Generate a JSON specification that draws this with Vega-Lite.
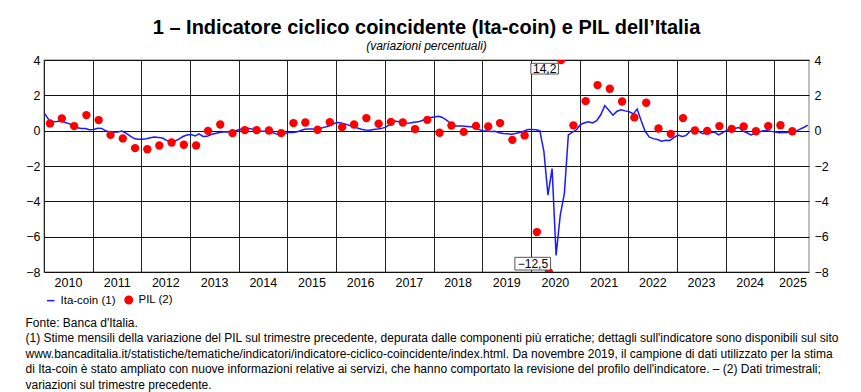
{
  "$schema": "https://vega.github.io/schema/vega-lite/v6.json",
  "autosize": "none",
  "width": 765,
  "height": 212,
  "padding": {"left": 44, "top": 60, "right": 52, "bottom": 120},
  "background": "white",
  "config": {
    "font": "Liberation Sans",
    "view": {"stroke": "#aaaaaa", "strokeWidth": 1.5},
    "locale": {"number": {"decimal": ",", "thousands": ".", "grouping": [3], "currency": ["€", ""]}}
  },
  "title": {
    "text": "1 – Indicatore ciclico coincidente (Ita-coin) e PIL dell’Italia",
    "subtitle": "(variazioni percentuali)",
    "font": "Liberation Sans",
    "fontSize": 20,
    "fontWeight": "bold",
    "color": "black",
    "subtitleFont": "Liberation Sans",
    "subtitleFontSize": 12,
    "subtitleFontStyle": "italic",
    "subtitleColor": "black",
    "subtitlePadding": 3,
    "anchor": "middle",
    "offset": 2
  },
  "datasets": {
    "itacoin": [
      {"date": "2010-01-08", "value": 0.95, "series": "Ita-coin (1)"},
      {"date": "2010-02-08", "value": 0.6, "series": "Ita-coin (1)"},
      {"date": "2010-03-08", "value": 0.5, "series": "Ita-coin (1)"},
      {"date": "2010-04-08", "value": 0.52, "series": "Ita-coin (1)"},
      {"date": "2010-05-08", "value": 0.56, "series": "Ita-coin (1)"},
      {"date": "2010-06-08", "value": 0.46, "series": "Ita-coin (1)"},
      {"date": "2010-07-08", "value": 0.4, "series": "Ita-coin (1)"},
      {"date": "2010-08-08", "value": 0.28, "series": "Ita-coin (1)"},
      {"date": "2010-09-08", "value": 0.16, "series": "Ita-coin (1)"},
      {"date": "2010-10-08", "value": 0.12, "series": "Ita-coin (1)"},
      {"date": "2010-11-08", "value": 0.12, "series": "Ita-coin (1)"},
      {"date": "2010-12-08", "value": 0.05, "series": "Ita-coin (1)"},
      {"date": "2011-01-08", "value": 0.07, "series": "Ita-coin (1)"},
      {"date": "2011-02-08", "value": 0.14, "series": "Ita-coin (1)"},
      {"date": "2011-03-08", "value": 0.13, "series": "Ita-coin (1)"},
      {"date": "2011-04-08", "value": 0.0, "series": "Ita-coin (1)"},
      {"date": "2011-05-08", "value": -0.07, "series": "Ita-coin (1)"},
      {"date": "2011-06-08", "value": -0.09, "series": "Ita-coin (1)"},
      {"date": "2011-07-08", "value": -0.07, "series": "Ita-coin (1)"},
      {"date": "2011-08-08", "value": -0.02, "series": "Ita-coin (1)"},
      {"date": "2011-09-08", "value": -0.14, "series": "Ita-coin (1)"},
      {"date": "2011-10-08", "value": -0.3, "series": "Ita-coin (1)"},
      {"date": "2011-11-08", "value": -0.45, "series": "Ita-coin (1)"},
      {"date": "2011-12-08", "value": -0.48, "series": "Ita-coin (1)"},
      {"date": "2012-01-08", "value": -0.48, "series": "Ita-coin (1)"},
      {"date": "2012-02-08", "value": -0.46, "series": "Ita-coin (1)"},
      {"date": "2012-03-08", "value": -0.4, "series": "Ita-coin (1)"},
      {"date": "2012-04-08", "value": -0.36, "series": "Ita-coin (1)"},
      {"date": "2012-05-08", "value": -0.38, "series": "Ita-coin (1)"},
      {"date": "2012-06-08", "value": -0.42, "series": "Ita-coin (1)"},
      {"date": "2012-07-08", "value": -0.55, "series": "Ita-coin (1)"},
      {"date": "2012-08-08", "value": -0.62, "series": "Ita-coin (1)"},
      {"date": "2012-09-08", "value": -0.6, "series": "Ita-coin (1)"},
      {"date": "2012-10-08", "value": -0.48, "series": "Ita-coin (1)"},
      {"date": "2012-11-08", "value": -0.33, "series": "Ita-coin (1)"},
      {"date": "2012-12-08", "value": -0.25, "series": "Ita-coin (1)"},
      {"date": "2013-01-08", "value": -0.22, "series": "Ita-coin (1)"},
      {"date": "2013-02-08", "value": -0.3, "series": "Ita-coin (1)"},
      {"date": "2013-03-08", "value": -0.18, "series": "Ita-coin (1)"},
      {"date": "2013-04-08", "value": -0.33, "series": "Ita-coin (1)"},
      {"date": "2013-05-08", "value": -0.32, "series": "Ita-coin (1)"},
      {"date": "2013-06-08", "value": -0.22, "series": "Ita-coin (1)"},
      {"date": "2013-07-08", "value": -0.16, "series": "Ita-coin (1)"},
      {"date": "2013-08-08", "value": -0.1, "series": "Ita-coin (1)"},
      {"date": "2013-09-08", "value": -0.08, "series": "Ita-coin (1)"},
      {"date": "2013-10-08", "value": -0.07, "series": "Ita-coin (1)"},
      {"date": "2013-11-08", "value": -0.05, "series": "Ita-coin (1)"},
      {"date": "2013-12-08", "value": 0.0, "series": "Ita-coin (1)"},
      {"date": "2014-01-08", "value": 0.07, "series": "Ita-coin (1)"},
      {"date": "2014-02-08", "value": 0.12, "series": "Ita-coin (1)"},
      {"date": "2014-03-08", "value": 0.14, "series": "Ita-coin (1)"},
      {"date": "2014-04-08", "value": 0.09, "series": "Ita-coin (1)"},
      {"date": "2014-05-08", "value": 0.06, "series": "Ita-coin (1)"},
      {"date": "2014-06-08", "value": -0.03, "series": "Ita-coin (1)"},
      {"date": "2014-07-08", "value": -0.04, "series": "Ita-coin (1)"},
      {"date": "2014-08-08", "value": -0.05, "series": "Ita-coin (1)"},
      {"date": "2014-09-08", "value": -0.1, "series": "Ita-coin (1)"},
      {"date": "2014-10-08", "value": -0.18, "series": "Ita-coin (1)"},
      {"date": "2014-11-08", "value": -0.25, "series": "Ita-coin (1)"},
      {"date": "2014-12-08", "value": -0.16, "series": "Ita-coin (1)"},
      {"date": "2015-01-08", "value": -0.1, "series": "Ita-coin (1)"},
      {"date": "2015-02-08", "value": -0.1, "series": "Ita-coin (1)"},
      {"date": "2015-03-08", "value": -0.07, "series": "Ita-coin (1)"},
      {"date": "2015-04-08", "value": 0.0, "series": "Ita-coin (1)"},
      {"date": "2015-05-08", "value": 0.08, "series": "Ita-coin (1)"},
      {"date": "2015-06-08", "value": 0.1, "series": "Ita-coin (1)"},
      {"date": "2015-07-08", "value": 0.09, "series": "Ita-coin (1)"},
      {"date": "2015-08-08", "value": 0.09, "series": "Ita-coin (1)"},
      {"date": "2015-09-08", "value": 0.14, "series": "Ita-coin (1)"},
      {"date": "2015-10-08", "value": 0.2, "series": "Ita-coin (1)"},
      {"date": "2015-11-08", "value": 0.26, "series": "Ita-coin (1)"},
      {"date": "2015-12-08", "value": 0.38, "series": "Ita-coin (1)"},
      {"date": "2016-01-08", "value": 0.46, "series": "Ita-coin (1)"},
      {"date": "2016-02-08", "value": 0.44, "series": "Ita-coin (1)"},
      {"date": "2016-03-08", "value": 0.38, "series": "Ita-coin (1)"},
      {"date": "2016-04-08", "value": 0.3, "series": "Ita-coin (1)"},
      {"date": "2016-05-08", "value": 0.22, "series": "Ita-coin (1)"},
      {"date": "2016-06-08", "value": 0.15, "series": "Ita-coin (1)"},
      {"date": "2016-07-08", "value": 0.08, "series": "Ita-coin (1)"},
      {"date": "2016-08-08", "value": 0.04, "series": "Ita-coin (1)"},
      {"date": "2016-09-08", "value": 0.03, "series": "Ita-coin (1)"},
      {"date": "2016-10-08", "value": 0.06, "series": "Ita-coin (1)"},
      {"date": "2016-11-08", "value": 0.09, "series": "Ita-coin (1)"},
      {"date": "2016-12-08", "value": 0.13, "series": "Ita-coin (1)"},
      {"date": "2017-01-08", "value": 0.2, "series": "Ita-coin (1)"},
      {"date": "2017-02-08", "value": 0.35, "series": "Ita-coin (1)"},
      {"date": "2017-03-08", "value": 0.55, "series": "Ita-coin (1)"},
      {"date": "2017-04-08", "value": 0.52, "series": "Ita-coin (1)"},
      {"date": "2017-05-08", "value": 0.46, "series": "Ita-coin (1)"},
      {"date": "2017-06-08", "value": 0.42, "series": "Ita-coin (1)"},
      {"date": "2017-07-08", "value": 0.43, "series": "Ita-coin (1)"},
      {"date": "2017-08-08", "value": 0.47, "series": "Ita-coin (1)"},
      {"date": "2017-09-08", "value": 0.5, "series": "Ita-coin (1)"},
      {"date": "2017-10-08", "value": 0.58, "series": "Ita-coin (1)"},
      {"date": "2017-11-08", "value": 0.66, "series": "Ita-coin (1)"},
      {"date": "2017-12-08", "value": 0.74, "series": "Ita-coin (1)"},
      {"date": "2018-01-08", "value": 0.78, "series": "Ita-coin (1)"},
      {"date": "2018-02-08", "value": 0.82, "series": "Ita-coin (1)"},
      {"date": "2018-03-08", "value": 0.75, "series": "Ita-coin (1)"},
      {"date": "2018-04-08", "value": 0.6, "series": "Ita-coin (1)"},
      {"date": "2018-05-08", "value": 0.42, "series": "Ita-coin (1)"},
      {"date": "2018-06-08", "value": 0.26, "series": "Ita-coin (1)"},
      {"date": "2018-07-08", "value": 0.26, "series": "Ita-coin (1)"},
      {"date": "2018-08-08", "value": 0.26, "series": "Ita-coin (1)"},
      {"date": "2018-09-08", "value": 0.24, "series": "Ita-coin (1)"},
      {"date": "2018-10-08", "value": 0.22, "series": "Ita-coin (1)"},
      {"date": "2018-11-08", "value": 0.18, "series": "Ita-coin (1)"},
      {"date": "2018-12-08", "value": 0.06, "series": "Ita-coin (1)"},
      {"date": "2019-01-08", "value": 0.0, "series": "Ita-coin (1)"},
      {"date": "2019-02-08", "value": -0.02, "series": "Ita-coin (1)"},
      {"date": "2019-03-08", "value": -0.05, "series": "Ita-coin (1)"},
      {"date": "2019-04-08", "value": -0.04, "series": "Ita-coin (1)"},
      {"date": "2019-05-08", "value": -0.12, "series": "Ita-coin (1)"},
      {"date": "2019-06-08", "value": -0.16, "series": "Ita-coin (1)"},
      {"date": "2019-07-08", "value": -0.18, "series": "Ita-coin (1)"},
      {"date": "2019-08-08", "value": -0.2, "series": "Ita-coin (1)"},
      {"date": "2019-09-08", "value": -0.16, "series": "Ita-coin (1)"},
      {"date": "2019-10-08", "value": -0.1, "series": "Ita-coin (1)"},
      {"date": "2019-11-08", "value": -0.03, "series": "Ita-coin (1)"},
      {"date": "2019-12-08", "value": 0.06, "series": "Ita-coin (1)"},
      {"date": "2020-01-08", "value": 0.07, "series": "Ita-coin (1)"},
      {"date": "2020-02-08", "value": 0.05, "series": "Ita-coin (1)"},
      {"date": "2020-03-08", "value": 0.0, "series": "Ita-coin (1)"},
      {"date": "2020-04-08", "value": -1.2, "series": "Ita-coin (1)"},
      {"date": "2020-05-08", "value": -3.65, "series": "Ita-coin (1)"},
      {"date": "2020-06-08", "value": -2.15, "series": "Ita-coin (1)"},
      {"date": "2020-07-08", "value": -7.06, "series": "Ita-coin (1)"},
      {"date": "2020-08-08", "value": -4.8, "series": "Ita-coin (1)"},
      {"date": "2020-09-08", "value": -3.56, "series": "Ita-coin (1)"},
      {"date": "2020-10-08", "value": -0.24, "series": "Ita-coin (1)"},
      {"date": "2020-11-08", "value": -0.08, "series": "Ita-coin (1)"},
      {"date": "2020-12-08", "value": 0.05, "series": "Ita-coin (1)"},
      {"date": "2021-01-08", "value": 0.35, "series": "Ita-coin (1)"},
      {"date": "2021-02-08", "value": 0.45, "series": "Ita-coin (1)"},
      {"date": "2021-03-08", "value": 0.5, "series": "Ita-coin (1)"},
      {"date": "2021-04-08", "value": 0.44, "series": "Ita-coin (1)"},
      {"date": "2021-05-08", "value": 0.56, "series": "Ita-coin (1)"},
      {"date": "2021-06-08", "value": 0.9, "series": "Ita-coin (1)"},
      {"date": "2021-07-08", "value": 1.42, "series": "Ita-coin (1)"},
      {"date": "2021-08-08", "value": 1.15, "series": "Ita-coin (1)"},
      {"date": "2021-09-08", "value": 0.88, "series": "Ita-coin (1)"},
      {"date": "2021-10-08", "value": 1.1, "series": "Ita-coin (1)"},
      {"date": "2021-11-08", "value": 1.18, "series": "Ita-coin (1)"},
      {"date": "2021-12-08", "value": 1.12, "series": "Ita-coin (1)"},
      {"date": "2022-01-08", "value": 1.07, "series": "Ita-coin (1)"},
      {"date": "2022-02-08", "value": 0.95, "series": "Ita-coin (1)"},
      {"date": "2022-03-08", "value": 1.22, "series": "Ita-coin (1)"},
      {"date": "2022-04-08", "value": 0.55, "series": "Ita-coin (1)"},
      {"date": "2022-05-08", "value": -0.05, "series": "Ita-coin (1)"},
      {"date": "2022-06-08", "value": -0.37, "series": "Ita-coin (1)"},
      {"date": "2022-07-08", "value": -0.45, "series": "Ita-coin (1)"},
      {"date": "2022-08-08", "value": -0.5, "series": "Ita-coin (1)"},
      {"date": "2022-09-08", "value": -0.6, "series": "Ita-coin (1)"},
      {"date": "2022-10-08", "value": -0.54, "series": "Ita-coin (1)"},
      {"date": "2022-11-08", "value": -0.55, "series": "Ita-coin (1)"},
      {"date": "2022-12-08", "value": -0.4, "series": "Ita-coin (1)"},
      {"date": "2023-01-08", "value": -0.25, "series": "Ita-coin (1)"},
      {"date": "2023-02-08", "value": -0.33, "series": "Ita-coin (1)"},
      {"date": "2023-03-08", "value": -0.28, "series": "Ita-coin (1)"},
      {"date": "2023-04-08", "value": -0.05, "series": "Ita-coin (1)"},
      {"date": "2023-05-08", "value": 0.12, "series": "Ita-coin (1)"},
      {"date": "2023-06-08", "value": 0.0, "series": "Ita-coin (1)"},
      {"date": "2023-07-08", "value": -0.16, "series": "Ita-coin (1)"},
      {"date": "2023-08-08", "value": -0.16, "series": "Ita-coin (1)"},
      {"date": "2023-09-08", "value": -0.12, "series": "Ita-coin (1)"},
      {"date": "2023-10-08", "value": -0.07, "series": "Ita-coin (1)"},
      {"date": "2023-11-08", "value": -0.24, "series": "Ita-coin (1)"},
      {"date": "2023-12-08", "value": -0.12, "series": "Ita-coin (1)"},
      {"date": "2024-01-08", "value": 0.03, "series": "Ita-coin (1)"},
      {"date": "2024-02-08", "value": 0.07, "series": "Ita-coin (1)"},
      {"date": "2024-03-08", "value": 0.12, "series": "Ita-coin (1)"},
      {"date": "2024-04-08", "value": 0.18, "series": "Ita-coin (1)"},
      {"date": "2024-05-08", "value": -0.01, "series": "Ita-coin (1)"},
      {"date": "2024-06-08", "value": -0.12, "series": "Ita-coin (1)"},
      {"date": "2024-07-08", "value": -0.24, "series": "Ita-coin (1)"},
      {"date": "2024-08-08", "value": -0.16, "series": "Ita-coin (1)"},
      {"date": "2024-09-08", "value": -0.07, "series": "Ita-coin (1)"},
      {"date": "2024-10-08", "value": -0.01, "series": "Ita-coin (1)"},
      {"date": "2024-11-08", "value": -0.01, "series": "Ita-coin (1)"},
      {"date": "2024-12-08", "value": -0.04, "series": "Ita-coin (1)"},
      {"date": "2025-01-08", "value": -0.07, "series": "Ita-coin (1)"},
      {"date": "2025-02-08", "value": -0.12, "series": "Ita-coin (1)"},
      {"date": "2025-03-08", "value": -0.11, "series": "Ita-coin (1)"},
      {"date": "2025-04-08", "value": -0.1, "series": "Ita-coin (1)"},
      {"date": "2025-05-08", "value": -0.08, "series": "Ita-coin (1)"},
      {"date": "2025-06-08", "value": -0.05, "series": "Ita-coin (1)"},
      {"date": "2025-07-08", "value": 0.07, "series": "Ita-coin (1)"},
      {"date": "2025-08-08", "value": 0.18, "series": "Ita-coin (1)"},
      {"date": "2025-09-08", "value": 0.31, "series": "Ita-coin (1)"}
    ],
    "pil": [
      {"date": "2010-02-15", "value": 0.41, "series": "PIL (2)"},
      {"date": "2010-05-15", "value": 0.69, "series": "PIL (2)"},
      {"date": "2010-08-15", "value": 0.26, "series": "PIL (2)"},
      {"date": "2010-11-15", "value": 0.88, "series": "PIL (2)"},
      {"date": "2011-02-15", "value": 0.6, "series": "PIL (2)"},
      {"date": "2011-05-15", "value": -0.24, "series": "PIL (2)"},
      {"date": "2011-08-15", "value": -0.44, "series": "PIL (2)"},
      {"date": "2011-11-15", "value": -0.99, "series": "PIL (2)"},
      {"date": "2012-02-15", "value": -1.05, "series": "PIL (2)"},
      {"date": "2012-05-15", "value": -0.84, "series": "PIL (2)"},
      {"date": "2012-08-15", "value": -0.67, "series": "PIL (2)"},
      {"date": "2012-11-15", "value": -0.8, "series": "PIL (2)"},
      {"date": "2013-02-15", "value": -0.84, "series": "PIL (2)"},
      {"date": "2013-05-15", "value": -0.01, "series": "PIL (2)"},
      {"date": "2013-08-15", "value": 0.35, "series": "PIL (2)"},
      {"date": "2013-11-15", "value": -0.14, "series": "PIL (2)"},
      {"date": "2014-02-15", "value": 0.03, "series": "PIL (2)"},
      {"date": "2014-05-15", "value": 0.03, "series": "PIL (2)"},
      {"date": "2014-08-15", "value": 0.01, "series": "PIL (2)"},
      {"date": "2014-11-15", "value": -0.14, "series": "PIL (2)"},
      {"date": "2015-02-15", "value": 0.43, "series": "PIL (2)"},
      {"date": "2015-05-15", "value": 0.46, "series": "PIL (2)"},
      {"date": "2015-08-15", "value": 0.05, "series": "PIL (2)"},
      {"date": "2015-11-15", "value": 0.48, "series": "PIL (2)"},
      {"date": "2016-02-15", "value": 0.2, "series": "PIL (2)"},
      {"date": "2016-05-15", "value": 0.35, "series": "PIL (2)"},
      {"date": "2016-08-15", "value": 0.71, "series": "PIL (2)"},
      {"date": "2016-11-15", "value": 0.39, "series": "PIL (2)"},
      {"date": "2017-02-15", "value": 0.5, "series": "PIL (2)"},
      {"date": "2017-05-15", "value": 0.46, "series": "PIL (2)"},
      {"date": "2017-08-15", "value": 0.09, "series": "PIL (2)"},
      {"date": "2017-11-15", "value": 0.61, "series": "PIL (2)"},
      {"date": "2018-02-15", "value": -0.12, "series": "PIL (2)"},
      {"date": "2018-05-15", "value": 0.29, "series": "PIL (2)"},
      {"date": "2018-08-15", "value": -0.07, "series": "PIL (2)"},
      {"date": "2018-11-15", "value": 0.27, "series": "PIL (2)"},
      {"date": "2019-02-15", "value": 0.24, "series": "PIL (2)"},
      {"date": "2019-05-15", "value": 0.43, "series": "PIL (2)"},
      {"date": "2019-08-15", "value": -0.52, "series": "PIL (2)"},
      {"date": "2019-11-15", "value": -0.27, "series": "PIL (2)"},
      {"date": "2020-02-15", "value": -5.74, "series": "PIL (2)"},
      {"date": "2020-05-15", "value": -12.5, "series": "PIL (2)"},
      {"date": "2020-08-15", "value": 14.2, "series": "PIL (2)"},
      {"date": "2020-11-15", "value": 0.3, "series": "PIL (2)"},
      {"date": "2021-02-15", "value": 1.67, "series": "PIL (2)"},
      {"date": "2021-05-15", "value": 2.58, "series": "PIL (2)"},
      {"date": "2021-08-15", "value": 2.37, "series": "PIL (2)"},
      {"date": "2021-11-15", "value": 1.65, "series": "PIL (2)"},
      {"date": "2022-02-15", "value": 0.75, "series": "PIL (2)"},
      {"date": "2022-05-15", "value": 1.58, "series": "PIL (2)"},
      {"date": "2022-08-15", "value": 0.12, "series": "PIL (2)"},
      {"date": "2022-11-15", "value": -0.18, "series": "PIL (2)"},
      {"date": "2023-02-15", "value": 0.71, "series": "PIL (2)"},
      {"date": "2023-05-15", "value": 0.01, "series": "PIL (2)"},
      {"date": "2023-08-15", "value": -0.01, "series": "PIL (2)"},
      {"date": "2023-11-15", "value": 0.26, "series": "PIL (2)"},
      {"date": "2024-02-15", "value": 0.1, "series": "PIL (2)"},
      {"date": "2024-05-15", "value": 0.24, "series": "PIL (2)"},
      {"date": "2024-08-15", "value": -0.03, "series": "PIL (2)"},
      {"date": "2024-11-15", "value": 0.26, "series": "PIL (2)"},
      {"date": "2025-02-15", "value": 0.31, "series": "PIL (2)"},
      {"date": "2025-05-15", "value": -0.03, "series": "PIL (2)"}
    ]
  },
  "encoding": {
    "x": {
      "field": "date",
      "type": "temporal",
      "scale": {"domain": [{"year": 2010, "month": 1, "date": 1}, {"year": 2025, "month": 9, "date": 17}]},
      "axis": {
        "tickCount": {"interval": "year", "step": 1},
        "format": "%Y",
        "labelAlign": "center",
        "labelOffset": {"condition": {"test": "year(datum.value) == 2025", "value": 18}, "value": 24},
        "labelFontSize": 12.5,
        "labelColor": "black",
        "labelPadding": 4,
        "labelFlush": false,
        "labelOverlap": false,
        "labelBound": false,
        "grid": true,
        "gridColor": "#222222",
        "gridWidth": 1,
        "ticks": false,
        "domain": false,
        "title": [
          "Fonte: Banca d'Italia.",
          "(1) Stime mensili della variazione del PIL sul trimestre precedente, depurata dalle componenti più erratiche; dettagli sull'indicatore sono disponibili sul sito",
          "www.bancaditalia.it/statistiche/tematiche/indicatori/indicatore-ciclico-coincidente/index.html. Da novembre 2019, il campione di dati utilizzato per la stima",
          "di Ita-coin è stato ampliato con nuove informazioni relative ai servizi, che hanno comportato la revisione del profilo dell'indicatore. – (2) Dati trimestrali;",
          "variazioni sul trimestre precedente."
        ],
        "titleAnchor": "start",
        "titleAlign": "left",
        "titleBaseline": "top",
        "titleX": -19,
        "titleY": 45,
        "titleFont": "Liberation Sans",
        "titleFontSize": 12,
        "titleFontWeight": "normal",
        "titleColor": "black",
        "titleLineHeight": 15.5
      }
    }
  },
  "layer": [
    {
      "data": {"name": "itacoin"},
      "mark": {"type": "line", "strokeWidth": 1.5, "clip": true},
      "encoding": {
        "y": {
          "field": "value",
          "type": "quantitative",
          "scale": {"domain": [-8, 4], "nice": false, "zero": false, "clamp": true},
          "axis": {
            "orient": "left",
            "values": [-8, -6, -4, -2, 0, 2, 4],
            "format": "d",
            "grid": true,
            "gridColor": "#111111",
            "ticks": false,
            "domain": false,
            "labelFontSize": 12.5,
            "labelColor": "black",
            "labelPadding": 4,
            "title": null
          }
        },
        "color": {
          "field": "series",
          "type": "nominal",
          "scale": {"domain": ["Ita-coin (1)", "PIL (2)"], "range": ["#1a1aff", "#ff0000"]},
          "legend": {
            "orient": "none",
            "legendX": 1,
            "legendY": 234,
            "direction": "horizontal",
            "title": null,
            "labelFont": "Liberation Sans",
            "labelFontSize": 11.5,
            "labelColor": "black",
            "symbolSize": 55,
            "symbolStrokeWidth": 1.5,
            "columnPadding": 6,
            "labelOffset": 4
          }
        }
      }
    },
    {
      "data": {"name": "pil"},
      "mark": {"type": "point", "filled": true, "size": 70, "opacity": 1, "strokeWidth": 0, "clip": true},
      "encoding": {
        "y": {
          "field": "value",
          "type": "quantitative",
          "scale": {"domain": [-8, 4], "nice": false, "zero": false, "clamp": true},
          "axis": {
            "orient": "right",
            "values": [-8, -6, -4, -2, 0, 2, 4],
            "format": "d",
            "grid": false,
            "ticks": false,
            "domain": false,
            "labelFontSize": 12.5,
            "labelColor": "black",
            "labelPadding": 5,
            "title": null
          }
        },
        "color": {
          "field": "series",
          "type": "nominal",
          "scale": {"domain": ["Ita-coin (1)", "PIL (2)"], "range": ["#1a1aff", "#ff0000"]}
        },
        "stroke": {
          "field": "series",
          "type": "nominal",
          "scale": {"domain": ["Ita-coin (1)", "PIL (2)"], "range": ["#1a1aff", "#ff0000"]}
        },
        "shape": {
          "field": "series",
          "type": "nominal",
          "scale": {"domain": ["Ita-coin (1)", "PIL (2)"], "range": ["stroke", "circle"]}
        }
      }
    },
    {
      "data": {"name": "pil"},
      "transform": [{"filter": "datum.value > 4"}],
      "mark": {"type": "point", "filled": true, "fill": "white", "stroke": "#555555", "strokeWidth": 1, "opacity": 1, "size": 400, "shape": "M-3.03,0.33H-0.27V1.4H-3.03Z"},
      "encoding": {
        "y": {"field": "value", "type": "quantitative", "scale": {"domain": [-8, 4], "nice": false, "zero": false, "clamp": true}, "axis": null}
      }
    },
    {
      "data": {"name": "pil"},
      "transform": [{"filter": "datum.value < -8"}],
      "mark": {"type": "point", "filled": true, "fill": "white", "stroke": "#555555", "strokeWidth": 1, "opacity": 1, "size": 400, "shape": "M-3.4,-1.47H0.17V-0.2H-3.4Z"},
      "encoding": {
        "y": {"field": "value", "type": "quantitative", "scale": {"domain": [-8, 4], "nice": false, "zero": false, "clamp": true}, "axis": null}
      }
    },
    {
      "data": {"name": "pil"},
      "transform": [{"filter": "datum.value > 4"}],
      "mark": {"type": "text", "dx": -16.5, "dy": 9, "align": "center", "baseline": "middle", "fontSize": 12, "color": "black"},
      "encoding": {
        "y": {"field": "value", "type": "quantitative", "scale": {"domain": [-8, 4], "nice": false, "zero": false, "clamp": true}, "axis": null},
        "text": {"field": "value", "type": "quantitative", "format": ".1f"}
      }
    },
    {
      "data": {"name": "pil"},
      "transform": [{"filter": "datum.value < -8"}],
      "mark": {"type": "text", "dx": -16, "dy": -8.5, "align": "center", "baseline": "middle", "fontSize": 12, "color": "black"},
      "encoding": {
        "y": {"field": "value", "type": "quantitative", "scale": {"domain": [-8, 4], "nice": false, "zero": false, "clamp": true}, "axis": null},
        "text": {"field": "value", "type": "quantitative", "format": ".1f"}
      }
    }
  ],
  "resolve": {"scale": {"y": "independent"}, "axis": {"y": "independent"}}
}
